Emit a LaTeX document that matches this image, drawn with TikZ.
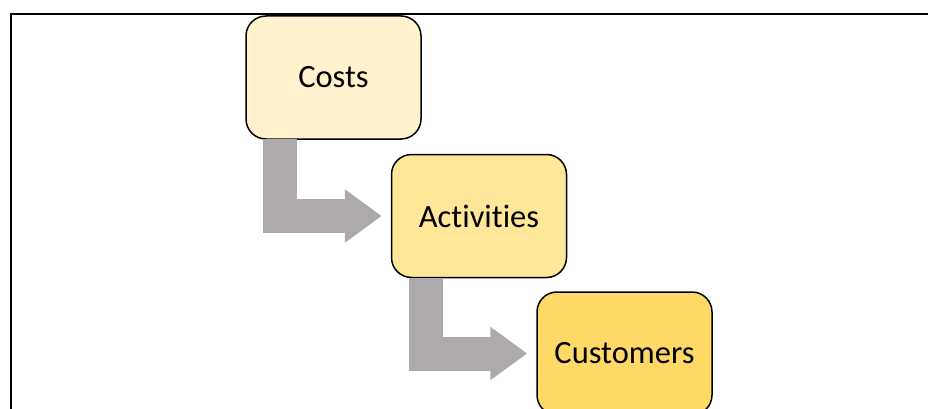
\documentclass[tikz,border=0pt]{standalone}
\usepackage{fontspec}
\setmainfont[Ligatures=NoCommon]{Carlito}
\usetikzlibrary{arrows.meta}
\definecolor{costfill}{HTML}{FFF2CC}
\definecolor{actfill}{HTML}{FFE699}
\definecolor{custfill}{HTML}{FFD966}
\definecolor{flowgray}{HTML}{AEAAAA}
\tikzset{
  stage/.style={draw=black, line width=1.5pt, rounded corners=20pt,
    minimum width=175pt, minimum height=123pt, inner sep=0pt,
    font=\fontsize{32.5}{38}\selectfont},
  flow/.style={draw=flowgray, line width=34pt, line cap=butt, line join=miter,
    -{Triangle[length=37pt,width=51pt]}, shorten >=9pt},
}
\begin{document}
\begin{tikzpicture}[x=1pt, y=-1pt]
  \useasboundingbox (0,0) rectangle (928,409);
  \clip (0,0) rectangle (928,409);
  \fill[white] (0,0) rectangle (928,409);
  % outer frame
  \draw[line width=2pt] (10.5,14) rectangle (960,440);

  \node[stage, fill=costfill] (costs) at (333.5,77.5) {Costs};
  \node[stage, fill=actfill] (activities) at (479,216) {Activities};
  \node[stage, fill=custfill] (customers) at (624.5,353.5) {Customers};

  \coordinate (f1) at ([xshift=35pt,yshift=0.7pt]costs.south west);
  \coordinate (f2) at ([xshift=35pt,yshift=0.7pt]activities.south west);
  \draw[flow] (f1) |- (activities.west);
  \draw[flow] (f2) |- (customers.west);
\end{tikzpicture}
\end{document}
